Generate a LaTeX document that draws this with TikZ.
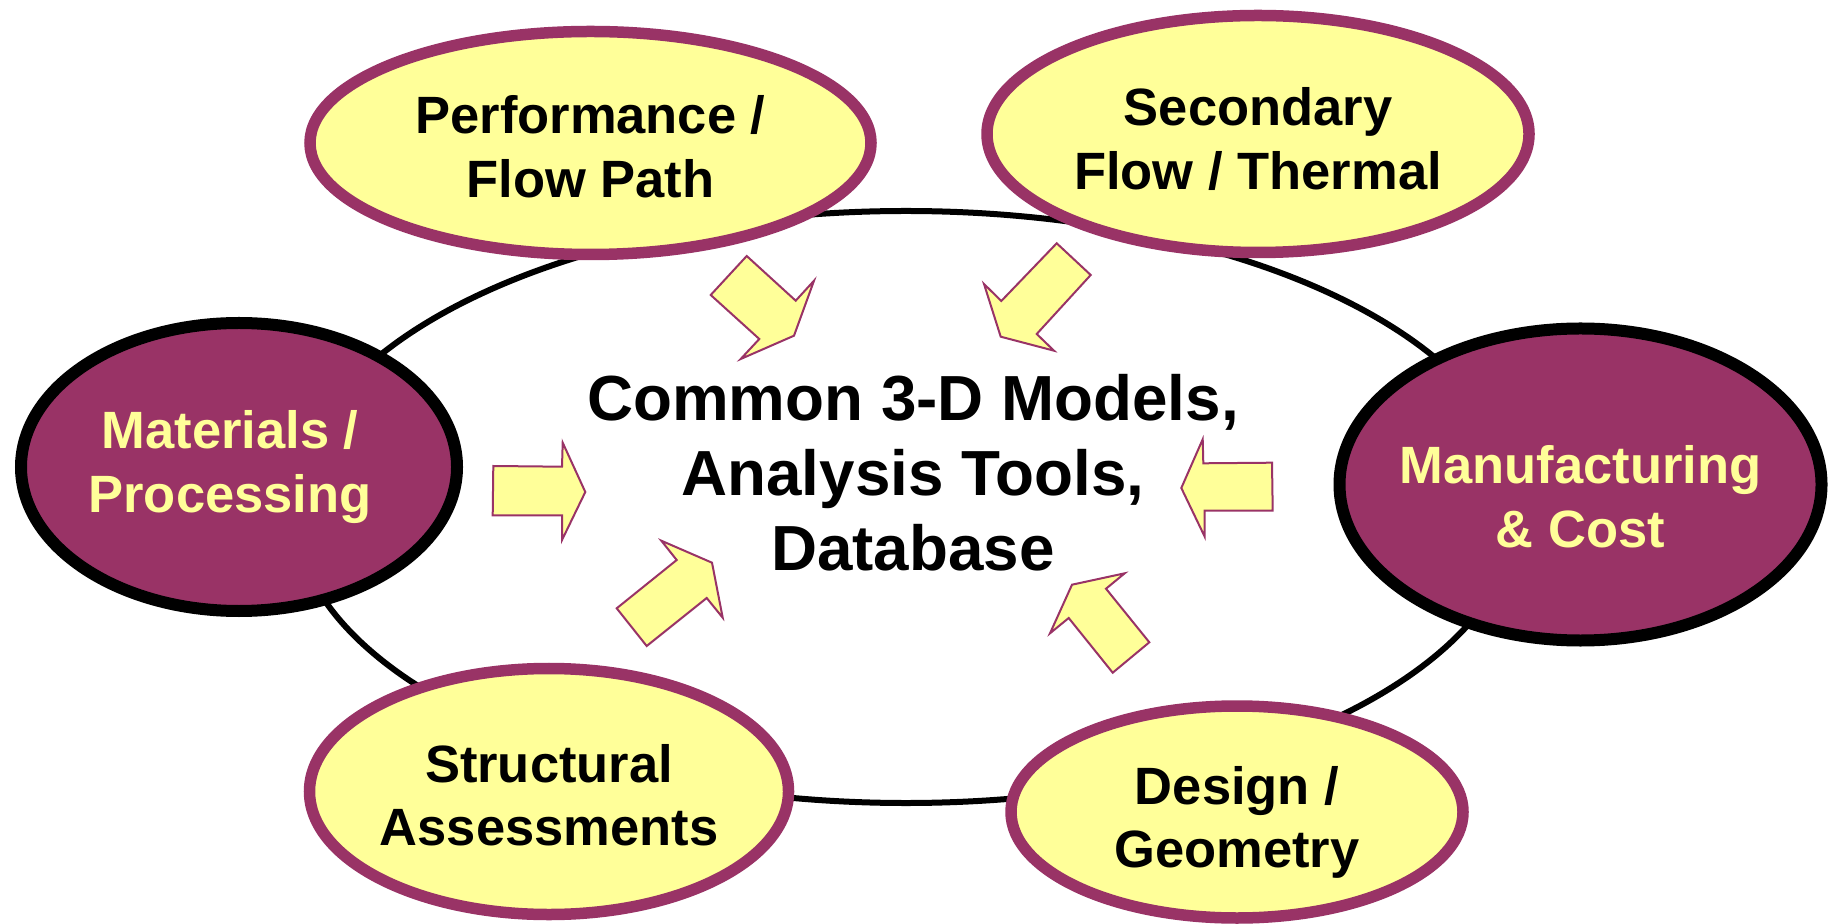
\documentclass[tikz,border=0pt]{standalone}
\usepackage{fontspec}
\setmainfont{Liberation Sans}
\usetikzlibrary{shapes.geometric}
\definecolor{plum}{HTML}{993366}
\definecolor{paleyel}{HTML}{FFFF99}
\tikzset{
  satlight/.style={ellipse, draw=plum, fill=paleyel, line width=4.6pt, inner sep=0pt},
  satdark/.style={ellipse, draw=black, fill=plum, line width=4.8pt, inner sep=0pt},
  darklabel/.style={align=center, font=\fontsize{21}{25.4}\selectfont\bfseries, text=black, inner sep=0pt},
  lightlabel/.style={align=center, font=\fontsize{21}{25.4}\selectfont\bfseries, text=paleyel, inner sep=0pt},
  ring/.style={ellipse, draw=black, line width=2.4pt, inner sep=0pt},
  blockarrow/.style={draw=plum, fill=paleyel, line width=0.8pt, line join=miter},
  centertext/.style={align=center, font=\fontsize{25.5}{30}\selectfont\bfseries, inner sep=0pt}
}
\begin{document}
\begin{tikzpicture}[x=0.4pt,y=-0.4pt]
\useasboundingbox[fill=white] (0,0) rectangle (1837,924);
% central ring
\node[ring, minimum width=490pt, minimum height=236.8pt] (ring) at (906,507) {};
% block arrows
\draw[blockarrow] (746.7,256) -- (710.7,295) -- (759.3,339) -- (740.7,359) -- (794,335.7) -- (814,280.7) -- (795.7,300.7) -- cycle;
\draw[blockarrow] (1056.7,243.3) -- (1090.7,275) -- (1036.7,334) -- (1054,350.7) -- (1000.7,336.7) -- (984,284) -- (1001.3,301) -- cycle;
\draw[blockarrow] (616.7,608.3) -- (676.7,560) -- (661.3,540.7) -- (712,562.7) -- (722.7,617.7) -- (706.7,598) -- (646.7,646) -- cycle;
\draw[blockarrow] (1112.7,672.7) -- (1149.3,642.3) -- (1106,588.7) -- (1124.7,573.3) -- (1072,584.7) -- (1050,633.3) -- (1068.7,618) -- cycle;
\draw[blockarrow] (493.3,466) -- (562,466.7) -- (562.7,442.7) -- (585.3,492) -- (562,540) -- (562,515.3) -- (492.7,515.3) -- cycle;
\draw[blockarrow] (1272,462.7) -- (1203.3,463.3) -- (1202.7,439.3) -- (1181.3,488) -- (1204.7,536.7) -- (1204.7,510.7) -- (1272.7,510.7) -- cycle;
% center text
\node[centertext] (core) at (913,473) {Common 3-D Models,\\Analysis Tools,\\Database};
% satellites
\node[satlight, minimum width=224.4pt, minimum height=89.2pt] (perf) at (590.5,143) {};
\node[darklabel] (perf-label) at (590.5,146.5) {Performance /\\Flow Path};
\node[satlight, minimum width=216.8pt, minimum height=94.8pt] (sec) at (1258,134) {};
\node[darklabel] (sec-label) at (1258,139) {Secondary\\Flow / Thermal};
\node[satdark, minimum width=174.4pt, minimum height=115.2pt] (mat) at (239,467) {};
\node[lightlabel] (mat-label) at (230,467) {Materials /\\Processing};
\node[satdark, minimum width=192.8pt, minimum height=124.8pt] (manu) at (1580.5,484.5) {};
\node[lightlabel] (manu-label) at (1580.5,496.5) {Manufacturing\\\& Cost};
\node[satlight, minimum width=191.6pt, minimum height=98.4pt] (struct) at (549,791.5) {};
\node[darklabel] (struct-label) at (549,795) {Structural\\Assessments};
\node[satlight, minimum width=180.8pt, minimum height=84.8pt] (design) at (1237,812) {};
\node[darklabel] (design-label) at (1237,822.5) {Design /\\Geometry};
\end{tikzpicture}
\end{document}
